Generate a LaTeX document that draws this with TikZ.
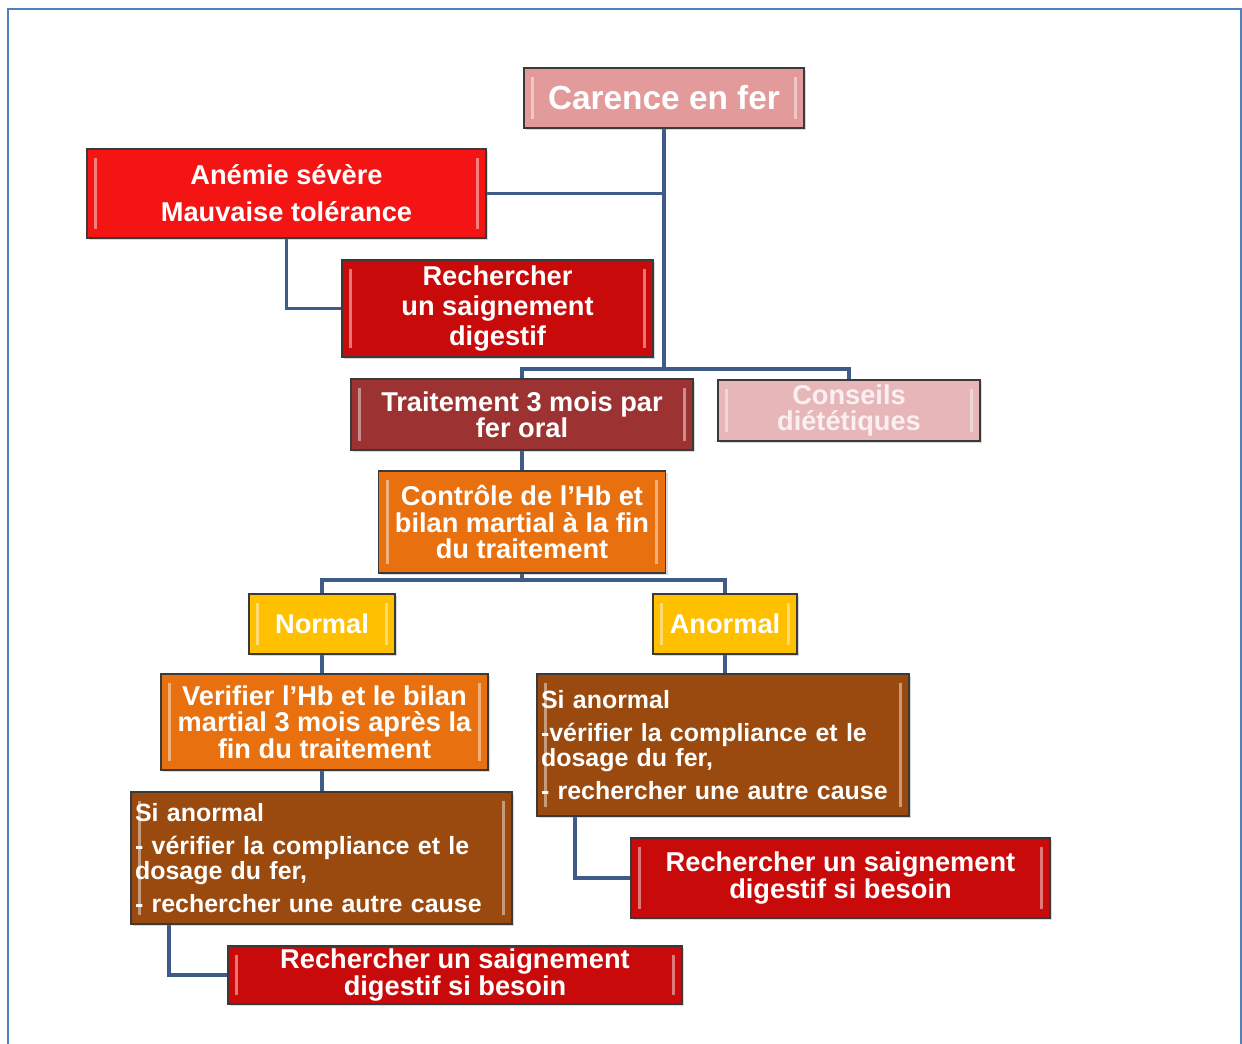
\documentclass[tikz,border=0pt]{standalone}
\usepackage{fontspec}
\setmainfont{Liberation Sans}
\usetikzlibrary{
  positioning,
  shadows,
  backgrounds
}
\definecolor{frameblue}{HTML}{4F81BD}
\definecolor{linkblue}{HTML}{3E5C87}
\definecolor{edge}{HTML}{3A3A3A}
\definecolor{carence}{HTML}{E29A9B}
\definecolor{severe}{HTML}{F41414}
\definecolor{saign}{HTML}{C80A0A}
\definecolor{trait}{HTML}{9C3232}
\definecolor{conseil}{HTML}{E7B6B8}
\definecolor{bilan}{HTML}{E8700E}
\definecolor{resultat}{HTML}{FFC000}
\definecolor{anomal}{HTML}{9A4A0E}

\begin{document}
\begin{tikzpicture}[
  x=0.02cm, y=-0.02cm,
  sz/.style 2 args={minimum width=#1*0.02cm, minimum height=#2*0.02cm},
  box/.style={draw=edge, line width=1pt, text=white, align=center, inner sep=0pt,
              font=\fontsize{15.5}{15}\selectfont\bfseries,
              drop shadow={shadow xshift=1.2pt, shadow yshift=-1.2pt, opacity=0.3},
              path picture={\draw[white, opacity=0.45, line width=1.6pt]
                ([xshift=5pt,yshift=-5pt]path picture bounding box.north west) --
                ([xshift=5pt,yshift=5pt]path picture bounding box.south west)
                ([xshift=-5pt,yshift=-5pt]path picture bounding box.north east) --
                ([xshift=-5pt,yshift=5pt]path picture bounding box.south east);}},
  listbox/.style={box, align=left, font=\fontsize{14.2}{14.2}\selectfont\bfseries},
  link/.style={draw=linkblue, line width=2.2pt}
]
  \useasboundingbox (0,0) rectangle (1242,1044);
  \draw[frameblue, line width=1.2pt] (8,1044) -- (8,9) -- (1241,9) -- (1241,1044);

  % top of the tree
  \node[box, sz={280}{60}, fill=carence, font=\fontsize{19}{22}\selectfont\bfseries] (carence) at (664,98) {Carence en fer};
  \node[box, sz={399}{89}, fill=severe, font=\fontsize{15.5}{21}\selectfont\bfseries] (severe) at (286.5,193.5) {Anémie sévère\\Mauvaise tolérance};
  \node[box, sz={311}{97}, fill=saign, font=\fontsize{15.5}{17}\selectfont\bfseries] (saign) at (497.5,308.5) {Rechercher\\un saignement\\digestif};
  \node[box, sz={342}{71}, fill=trait] (trait) at (522,414.5) {Traitement 3 mois par\\fer oral};
  \node[box, sz={262}{61}, fill=conseil, text=white!80!conseil] (conseil) at (849,410.5) {Conseils\\diététiques};
  \node[box, sz={287}{102}, fill=bilan] (bilan) at (522,522) {Contrôle de l'Hb et\\bilan martial à la fin\\du traitement};

  % results
  \node[box, sz={146}{60}, fill=resultat] (normal) at (322,624) {Normal};
  \node[box, sz={144}{60}, fill=resultat] (anormal) at (725,624) {Anormal};
  \node[box, sz={327}{96}, fill=bilan] (verif) at (324.5,722) {Verifier l'Hb et le bilan\\martial 3 mois après la\\fin du traitement};
  \node[listbox, sz={381}{132}, fill=anomal, text width=7.46cm] (gauche) at (321.5,858)
    {Si anormal\\[4.5pt]- vérifier la compliance et le\\dosage du fer,\\[4.5pt]- rechercher une autre cause};
  \node[listbox, sz={372}{142}, fill=anomal, text width=7.28cm] (droite) at (723,745)
    {Si anormal\\[4.5pt]-vérifier la compliance et le\\dosage du fer,\\[4.5pt]- rechercher une autre cause};
  \node[box, sz={419}{80}, fill=saign] (rechD) at (840.5,878) {Rechercher un saignement\\digestif si besoin};
  \node[box, sz={454}{58}, fill=saign] (rechG) at (455,975) {Rechercher un saignement\\digestif si besoin};

  % connectors
  \coordinate (trunk) at (664,369);
  \coordinate (split) at (522,580);
  \begin{scope}[on background layer]
    \draw[link] (carence.south) -- (trunk);
    \draw[link] (severe.east) -- (severe.east -| trunk);
    \draw[link] (severe.south) |- (saign.west);
    \draw[link] (trait.north) |- (trunk) -| (conseil.north);
    \draw[link] (trait.south) -- (bilan.north);
    \draw[link] (bilan.south) -- (split);
    \draw[link] (normal.north) |- (split) -| (anormal.north);
    \draw[link] (normal.south) -- (normal.south |- verif.north);
    \draw[link] (verif.south -| normal.south) -- (normal.south |- gauche.north);
    \draw[link] (anormal.south) -- (anormal.south |- droite.north);
    \draw[link] ([xshift=0.78cm]droite.south west) |- (rechD.west);
    \draw[link] ([xshift=0.78cm]gauche.south west) |- (rechG.west);
  \end{scope}
\end{tikzpicture}
\end{document}
